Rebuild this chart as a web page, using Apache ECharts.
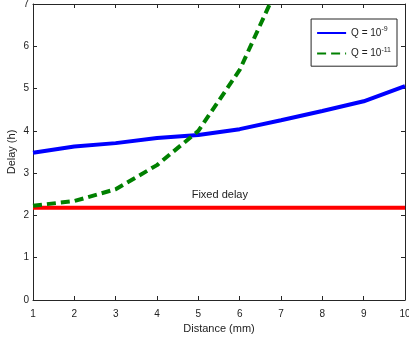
<!DOCTYPE html>
<html>
<head>
<meta charset="utf-8">
<script src="https://cdn.jsdelivr.net/npm/echarts@6/dist/echarts.min.js"></script>
<style>
  html, body { margin: 0; padding: 0; background: #fff; }
  #chart { width: 409px; height: 341px; }
</style>
</head>
<body>
<div id="chart"></div>
<script>
// Delay versus distance for two Q thresholds, with the fixed-delay reference
const distance = [1, 2, 3, 4, 5, 6, 7, 8, 9, 10];
const delayQ9 = [3.48, 3.63, 3.71, 3.83, 3.90, 4.04, 4.25, 4.47, 4.70, 5.06];
const delayQ11 = [2.23, 2.34, 2.62, 3.19, 4.00, 5.44, 7.58];
const fixedDelay = [2.18, 2.18, 2.18, 2.18, 2.18, 2.18, 2.18, 2.18, 2.18, 2.18];
const xTicks = [1, 2, 3, 4, 5, 6, 7, 8, 9, 10];
const yTicks = [0, 1, 2, 3, 4, 5, 6, 7];

const FONT = 'Liberation Sans';
const axisColor = '#262626';

const pairs = (xs, ys) => ys.map((y, i) => [xs[i], y]);

const legendNames = {
  q9: 'Q = 10{sup|-9}',
  q11: 'Q = 10{sup|-11}'
};

const chart = echarts.init(document.getElementById('chart'), null, { renderer: 'canvas' });

const baseX = {
  type: 'value',
  min: xTicks[0],
  max: xTicks[xTicks.length - 1],
  interval: 1,
  splitLine: { show: false },
  axisLine: { show: true, onZero: false, lineStyle: { color: axisColor, width: 1 } },
  axisTick: { show: true, inside: true, length: 4, lineStyle: { color: axisColor } }
};
const baseY = {
  type: 'value',
  min: yTicks[0],
  max: yTicks[yTicks.length - 1],
  interval: 1,
  splitLine: { show: false },
  axisLine: { show: true, onZero: false, lineStyle: { color: axisColor, width: 1 } },
  axisTick: { show: true, inside: true, length: 4, lineStyle: { color: axisColor } }
};

chart.setOption({
  animation: false,
  backgroundColor: '#ffffff',
  textStyle: { fontFamily: FONT },
  grid: { left: 33, right: 4, top: 4, bottom: 41, containLabel: false, outerBoundsMode: 'none' },
  legend: {
    right: 12,
    top: 19,
    orient: 'vertical',
    backgroundColor: '#ffffff',
    borderColor: axisColor,
    borderWidth: 1,
    borderRadius: 0,
    padding: [7, 6, 7, 5],
    itemGap: 8,
    itemWidth: 29,
    itemHeight: 14,
    itemStyle: { opacity: 0 },
    data: ['q9', 'q11'],
    formatter: (n) => legendNames[n],
    textStyle: {
      fontFamily: FONT,
      fontSize: 10,
      color: '#222',
      rich: {
        sup: { fontSize: 7, padding: [0, 0, 7, 0], color: '#222', fontFamily: FONT }
      }
    }
  },
  xAxis: [
    Object.assign({}, baseX, {
      position: 'bottom',
      name: 'Distance (mm)',
      nameLocation: 'middle',
      nameGap: 23,
      nameMoveOverlap: false,
      nameTextStyle: { fontFamily: FONT, fontSize: 11, color: '#222' },
      axisLabel: { fontFamily: FONT, fontSize: 10, color: '#222', margin: 9 }
    }),
    Object.assign({}, baseX, { position: 'top', axisLabel: { show: false } })
  ],
  yAxis: [
    Object.assign({}, baseY, {
      position: 'left',
      name: 'Delay (h)',
      nameLocation: 'middle',
      nameGap: 16,
      nameMoveOverlap: false,
      nameTextStyle: { fontFamily: FONT, fontSize: 11, color: '#222' },
      axisLabel: { fontFamily: FONT, fontSize: 10, color: '#222', margin: 4 }
    }),
    Object.assign({}, baseY, { position: 'right', axisLabel: { show: false } })
  ],
  series: [
    {
      name: 'fixed',
      type: 'line',
      data: pairs(distance, fixedDelay),
      symbol: 'none',
      lineStyle: { color: '#ff0000', width: 4 },
      itemStyle: { color: '#ff0000' },
      markPoint: {
        symbol: 'circle',
        symbolSize: 0,
        data: [{ coord: [5.52, fixedDelay[0]], value: 'Fixed delay' }],
        label: {
          show: true,
          position: 'top',
          distance: 7,
          formatter: 'Fixed delay',
          fontFamily: FONT,
          fontSize: 11,
          color: '#222'
        }
      },
      z: 2
    },
    {
      name: 'q9',
      type: 'line',
      data: pairs(distance, delayQ9),
      symbol: 'none',
      lineStyle: { color: '#0000ff', width: 4 },
      itemStyle: { color: '#0000ff' },
      z: 3
    },
    {
      name: 'q11',
      type: 'line',
      data: pairs(distance, delayQ11),
      symbol: 'none',
      clip: true,
      lineStyle: { color: '#008000', width: 4, type: [9, 5] },
      itemStyle: { color: '#008000' },
      z: 4
    }
  ]
});
</script>
</body>
</html>
